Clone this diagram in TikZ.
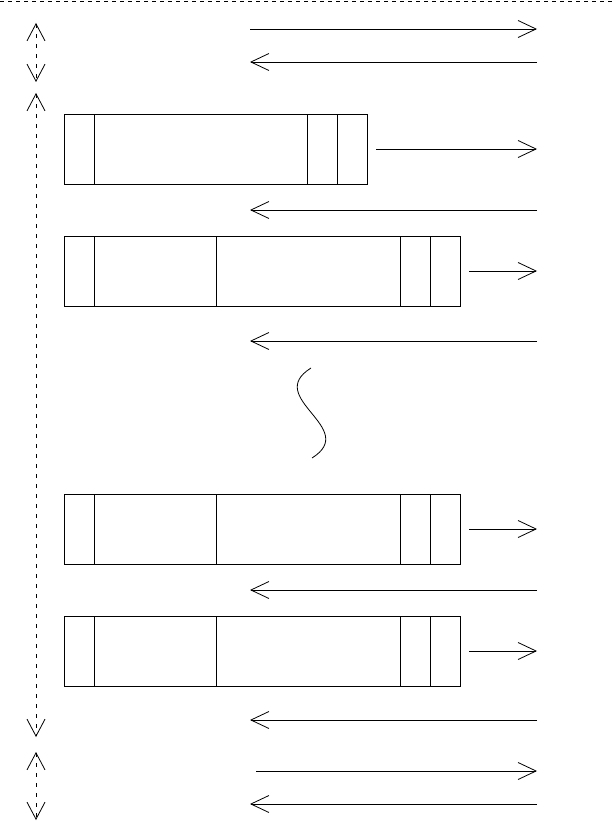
\documentclass[tikz,border=0pt]{standalone}
\usetikzlibrary{positioning}
\usetikzlibrary{arrows.meta}
\tikzset{
cell/.style={rectangle, draw, inner sep=0pt, outer sep=0pt, minimum height=70pt, line width=0.8pt},
msg/.style={-{Straight Barb[length=18pt,width=17pt]}, line width=0.8pt},
span_line/.style={{Straight Barb[length=17pt,width=18pt]}-{Straight Barb[length=17pt,width=18pt]}, dash pattern=on 4pt off 6pt, line width=0.8pt},
frame_line/.style={dash pattern=on 4pt off 4pt, line width=0.8pt}
}
\begin{document}
\begin{tikzpicture}[x=1pt, y=-1pt]
    \useasboundingbox (0,0) rectangle (612,824);
    \draw[frame_line] (0,1) -- (612,1);
    % time spans on the left
    \coordinate (t1) at (36,23);
    \coordinate (t2) at (36,82);
    \coordinate (t3) at (36,93);
    \coordinate (t4) at (36,737);
    \coordinate (t5) at (36,752);
    \coordinate (t6) at (36,820);
    \draw[span_line] (t1) -- (t2);
    \draw[span_line] (t3) -- (t4);
    \draw[span_line] (t5) -- (t6);
    % ends of the messages
    \coordinate (rim) at (537,0);
    \coordinate (lim) at (250,0);
    \coordinate (m1) at (250,29);
    \coordinate (m2) at (537,62);
    \coordinate (m3) at (537,210);
    \coordinate (m4) at (537,341);
    \coordinate (m5) at (537,590);
    \coordinate (m6) at (537,720);
    \coordinate (m7) at (256,771);
    \coordinate (m8) at (537,804);
    % frame 1
    \node[cell, minimum width=30pt, anchor=north west] (f1a) at (64,114) {};
    \node[cell, minimum width=213pt] (f1b) [right=0 of f1a] {};
    \node[cell, minimum width=30pt] (f1c) [right=0 of f1b] {};
    \node[cell, minimum width=30pt] (f1d) [right=0 of f1c] {};
    % frame 2
    \node[cell, minimum width=30pt, anchor=north west] (f2a) at (64,236) {};
    \node[cell, minimum width=122pt] (f2b) [right=0 of f2a] {};
    \node[cell, minimum width=184pt] (f2c) [right=0 of f2b] {};
    \node[cell, minimum width=30pt] (f2d) [right=0 of f2c] {};
    \node[cell, minimum width=30pt] (f2e) [right=0 of f2d] {};
    % frame 3
    \node[cell, minimum width=30pt, anchor=north west] (f3a) at (64,494) {};
    \node[cell, minimum width=122pt] (f3b) [right=0 of f3a] {};
    \node[cell, minimum width=184pt] (f3c) [right=0 of f3b] {};
    \node[cell, minimum width=30pt] (f3d) [right=0 of f3c] {};
    \node[cell, minimum width=30pt] (f3e) [right=0 of f3d] {};
    % frame 4
    \node[cell, minimum width=30pt, anchor=north west] (f4a) at (64,616) {};
    \node[cell, minimum width=122pt] (f4b) [right=0 of f4a] {};
    \node[cell, minimum width=184pt] (f4c) [right=0 of f4b] {};
    \node[cell, minimum width=30pt] (f4d) [right=0 of f4c] {};
    \node[cell, minimum width=30pt] (f4e) [right=0 of f4d] {};
    % messages
    \draw[msg] (m1) -- (m1 -| rim);
    \draw[msg] (m2) -- (m2 -| lim);
    \draw[msg, shorten <=9pt] (f1d.east) -- (f1d.east -| rim);
    \draw[msg] (m3) -- (m3 -| lim);
    \draw[msg, shorten <=9pt] (f2e.east) -- (f2e.east -| rim);
    \draw[msg] (m4) -- (m4 -| lim);
    \draw[msg, shorten <=9pt] (f3e.east) -- (f3e.east -| rim);
    \draw[msg] (m5) -- (m5 -| lim);
    \draw[msg, shorten <=9pt] (f4e.east) -- (f4e.east -| rim);
    \draw[msg] (m6) -- (m6 -| lim);
    \draw[msg] (m7) -- (m7 -| rim);
    \draw[msg] (m8) -- (m8 -| lim);
    % gap
    \draw[line width=0.8pt] (311,368) .. controls (263,398) and (360,428) .. (312,458);
\end{tikzpicture}
\end{document}
